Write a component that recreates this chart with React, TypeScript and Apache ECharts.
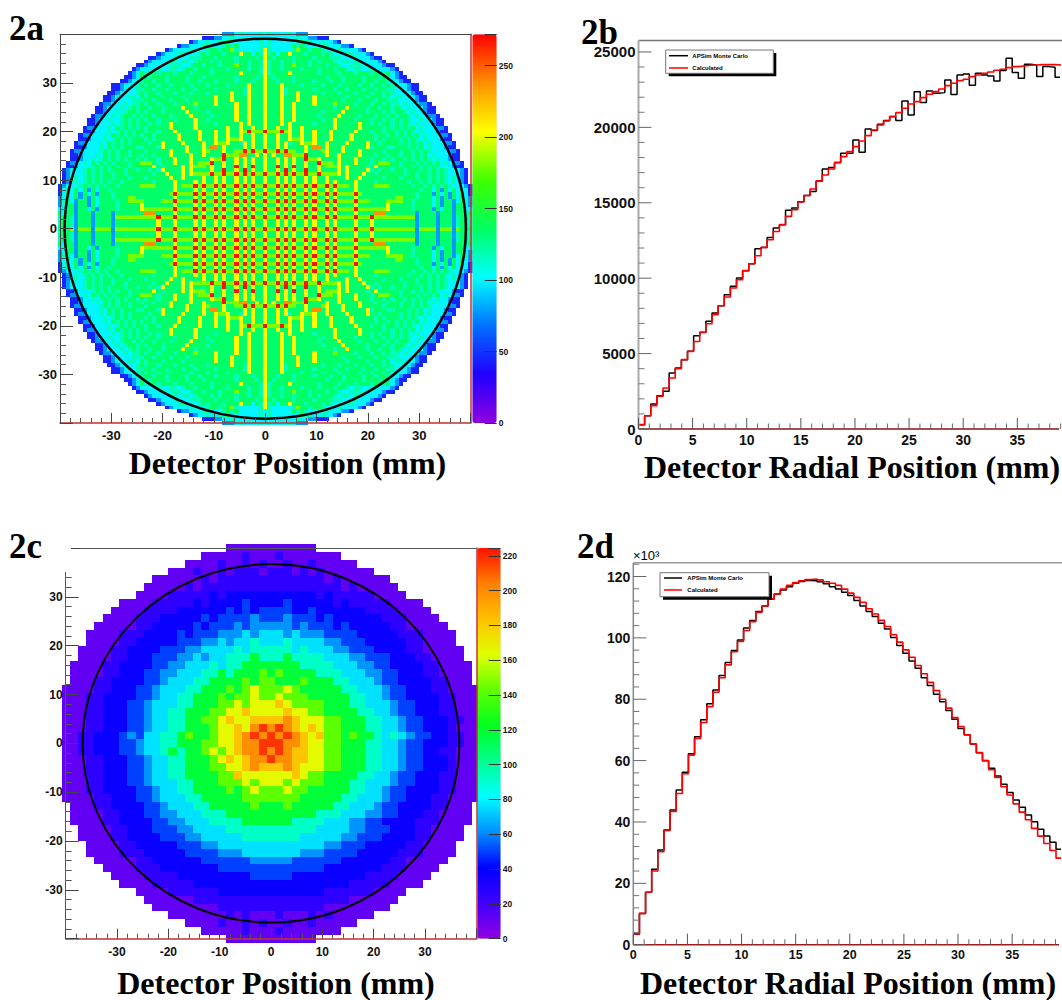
import React, { useEffect, useRef } from "react";
import * as echarts from "echarts";

// ---------- radial histograms, read bin by bin ----------
const binWidthMm = 0.566;
const monteCarlo2b = [290,880,1660,2210,2500,3710,4040,4600,5150,6190,6410,7140,7690,8170,8900,9460,10010,10500,10960,11960,12040,12700,13330,13550,14500,14650,15060,15480,15740,16448,17243,17332,17663,18282,18282,19166,18348,19895,19785,20205,20448,20713,20448,21752,20823,22370,21641,22415,22260,22304,23144,22172,23475,23542,22790,23586,23475,23409,23078,23763,24580,23630,23254,24183,24138,23365,24028,23984,23320,24000];
const calculated2b = [290,880,1550,2170,2720,3380,4000,4600,5150,5800,6400,6980,7580,8170,8750,9350,9900,10500,10960,11490,12040,12550,13100,13550,14100,14540,15050,15480,15917,16448,16846,17243,17663,18061,18393,18724,19100,19453,19829,20160,20426,20713,20978,21266,21553,21707,21973,22194,22370,22547,22768,22923,23100,23188,23365,23475,23586,23674,23785,23851,23962,24028,24072,24116,24138,24160,24160,24160,24138,24116];
const monteCarlo2d = [3.5,10.2,17.1,24.6,30.9,37.4,43.9,50.4,56.2,62.2,67.8,73.3,78.5,83,87.7,92,95.9,99.3,103.2,105.7,108.6,110.4,112.7,114.3,115.6,116.7,117.8,118.4,118.7,118.6,118.3,117.6,116.7,115.9,114.9,113.8,112.2,110.4,108.6,107,104.8,102.9,100.1,97.5,95,92.5,90.1,87,84.5,81.6,79.2,76.3,73.5,70.5,68.4,65.4,62.6,60,57.5,55,52.3,49.6,47.2,44.8,42.3,40.1,37.6,35.4,33.4,31.1];
const calculated2d = [3.5,10.2,17.1,24,30.3,37.2,43.4,49.3,55.7,61.8,67.2,72.4,77.6,82.3,87,91.2,95.5,98.8,102.4,105.3,108.3,110.4,112.7,114.3,115.9,117.1,118,118.6,119,119.2,118.9,118.3,117.8,117.1,115.9,114.6,113.2,111.6,109.5,107.8,105.7,103.7,101,98.6,96.1,93.7,91,88.3,85.5,82.8,80,77.1,74,71.1,68.4,65.4,62.6,59.9,57,54.5,51.5,48.8,45.9,43.2,40.7,37.9,35.4,33,30.7,28.2];

// ---------- tick positions of the two radial panels ----------
const radialMajorTicks = [0, 5, 10, 15, 20, 25, 30, 35];
const radialMinorTicks = [1,2,3,4,6,7,8,9,11,12,13,14,16,17,18,19,21,22,23,24,26,27,28,29,31,32,33,34,36,37,38,39];
const yMajorTicks2b = [0, 5000, 10000, 15000, 20000, 25000];
const yMinorTicks2b = [1000,2000,3000,4000,6000,7000,8000,9000,11000,12000,13000,14000,16000,17000,18000,19000,21000,22000,23000,24000];
const yMajorTicks2d = [0, 20, 40, 60, 80, 100, 120];
const yMinorTicks2d = [4,8,12,16,24,28,32,36,44,48,52,56,64,68,72,76,84,88,92,96,104,108,112,116,124];

// ---------- 2a: upper-left quadrant, read cell by cell; last char is the centre column ----------
const rows2a = [
"mmmcsccccsc",
"bbbmmccscccccccc",
"bmccsccssgcccccccsc",
"bmmcccsscccsgsgcccccsc",
"bmccccscccsggsgglscccccsy",
"bmcccsscccsgsgggsgggyggcgsy",
"bbmcccscccsssgggsggggsggggsgy",
"bmccccsscsscsgggsgsgggsggsggsy",
"bbmcccscsssccsggsgggsggglggsggsy",
"bmccccsccsscsggsgggsgggsggggsggsy",
"bmc" + "gsggsgggsg" + "ggsggggsgg" + "ggggyggggs" + "y",
"bbmc" + "ggsgggsggg" + "gsgggsgggg" + "gggsggggsg" + "y",
"bbmcc" + "sggsggsggg" + "gsggsgggsg" + "gggsgggsgg" + "y",
"bbmcccs" + "gsggsggsgg" + "ggsgggsggg" + "gsggggyggg" + "y",
"bbmcccs" + "sggsggsggg" + "sggsggggsg" + "gggggsyggg" + "y",
"bbmccccs" + "gsggsgggsg" + "ggsgggsggg" + "ggyggsyggg" + "y",
"bbmcccssc" + "gsgggsgggg" + "sgggggggyg" + "ggygggyggg" + "y",
"bbmccccss" + "sggsgggsgg" + "gsggggggyg" + "ggygggyggg" + "y",
"bmmcccscss" + "gsggsgggsg" + "ggglggggyg" + "gggyggyggg" + "y",
"bbmcccscsgs" + "ggsggsgggg" + "yggsgggggg" + "gggyggyggg" + "y",
"bbmccscsggs" + "gsgggsgggg" + "gyggggsggg" + "gggyggyggg" + "y",
"bmmccscsggsg" + "sggsgggsgg" + "ggyggggsgg" + "gggyggyggg" + "y",
"bbmccsccsgsgs" + "gsggsgggsg" + "gggyggsggg" + "gggyggyggg" + "y",
"bbmcccscsgsgs" + "ggsgsggygg" + "gggyggggsg" + "ggggygyggg" + "y",
"bmmcccscgsgsgs" + "gsgggggygg" + "gggygggggg" + "gyggyggygg" + "y",
"bbmcccscsgsgsg" + "gsggsgggyg" + "ggggygggyg" + "gyggylrlll" + "r",
"bmmcccscgsgsgsg" + "sggsgggggy" + "ggggygggyg" + "gyggyggygg" + "y",
"bbmcccscsgsgsgg" + "gsgsgggggy" + "ggggygggyg" + "gyllyggygg" + "y",
"bmmcccscgsgsgsgg" + "ggsggygggg" + "yggggyggyl" + "lyggsygygg" + "y",
"bbmcccscgsgsgggs" + "sgggsygggg" + "gygggygoog" + "yggggygygg" + "y",
"bmmccccsgsgsggsgg" + "gsgggggygg" + "gygggylggg" + "yggllrlrll" + "r",
"bbmcccscgsgsggsgg" + "sggsgggygg" + "ggyggygggg" + "rlllooggyg" + "y",
"bbmccscsgsgsgsggs" + "gsggsgggyg" + "ggyggggyll" + "rggygygygg" + "y",
"bmmcscgsgsgsgggsgg" + "lllgsgggyg" + "ggyglllrgg" + "yggygygygg" + "y",
"bbmcccsgsgsgsggsgg" + "gggygsgggg" + "ygylllgygg" + "yggrgygrgg" + "y",
"bmcccsgsgsgsgggsggs" + "ggsgsygggg" + "ygyggggygg" + "rggygrgygg" + "y",
"bmcccsgsgsggsggsggg" + "gggsggyggg" + "ygyllllrll" + "rllrlrlrll" + "r",
"bmcscsgsgsggsgggsgg" + "gsgggggygg" + "yggggyggyg" + "yggygygygg" + "y",
"bmcscsgsgsgsggsgggg" + "gggsggggyg" + "gggygyggyg" + "yggygygygg" + "y",
"bmcccsgsgsgsggsggggg" + "llllggggyg" + "lllrlrllrl" + "rllrlrlrll" + "r",
"bcscgcgmgcggsggggggg" + "ggggggggyg" + "gggygyggyg" + "yggygygygg" + "y",
"bcgcgmgcgmgggsgggggg" + "ggggggglrl" + "lllrlrllrl" + "rllrlrlrll" + "r",
"mcgcgmgmgcgggsgggllg" + "ggggggggyg" + "gggygyggyg" + "yggygygygg" + "y",
"msgcmggmgcggggsgglll" + "lgggglllrl" + "lllrlrllrl" + "rllrlrlrll" + "r",
"mcggmggmgcggggsggggg" + "ygggggggyg" + "gggygyggyg" + "yggygygygg" + "y",
"ccggmggcgmggggsggggg" + "ylllllllrl" + "lllrlrllrl" + "rllrlrlrll" + "r",
"gcggmgggmggggmgggggg" + "goooggggyg" + "gggygyggyg" + "yggygygygg" + "y",
"sggsmgggmggggmllllll" + "llllrlllrl" + "lllrlrllrl" + "rllrlrlrll" + "r",
"sggsmgggmggggmgggggg" + "ggggygggyg" + "gggygyggyg" + "yggygygygg" + "y",
"sggsmgggmggggmgggggg" + "ggggygggyg" + "gggygyggyg" + "yggygygygg" + "y",
"ggglmlllmllllmllllll" + "llllrlllrl" + "lllrlrllrl" + "rllrlrlrll" + "r",
];
const levels2a: Record<string, number> = { p: 25, b: 45, m: 78, c: 100, s: 118, g: 134, h: 150, l: 180, y: 206, o: 238, r: 268 };

// ---------- 2c: whole disc, read as coarse cells; each row is centred ----------
const rows2c = [
"00000000000",
"00000100010000000",
"000010010100100100000",
"0001001011101110101000000",
"00000010111111" + "1" + "11111101000000",
"000001011111111" + "1" + "111111110100000",
"0000111112122222" + "2" + "2222212111110000",
"000011111212222322" + "2" + "232222212111110000",
"0000111122222232323" + "3" + "3322322222211110000",
"00001112222232333343" + "3" + "34333232222221110000",
"000001122222323334344" + "4" + "443433323222221100000",
"0000111222232333444545" + "5" + "5454443333222221110000",
"0000112222233344545565" + "5" + "5655554433322222110000",
"00001122223334455556566" + "6" + "66565554433322221100000",
"00001122233344545566676" + "6" + "67666655544333222110000",
"000011222233445556566777" + "7" + "777666655544332222110000",
"000011222334455566767778" + "7" + "877776665554433222110000",
"000112222334555667777878" + "8" + "777877766555433222211000",
"0000112223345556677787898" + "8" + "8987777766555433222110000",
"0001122223345566777878898" + "8" + "9888777776655433222211000",
"0001122233455566777889899" + "9" + "a988887776655543322211000",
"0001122233455667778899a99" + "9" + "9a99887777665543322211000",
"00011222334556677889a99aa" + "a" + "aba9998877766554332221100",
"000112223345566777899a9bc" + "b" + "cba9a98877766554332221000",
"001122234355667877899abcb" + "c" + "bcba9a8878776565433221100",
"001122233455667778899abbc" + "c" + "cbba998877766554332221100",
"001122233455676778989abbc" + "b" + "cbaa998877766554332211000",
"00011222334556677789a9abb" + "c" + "bbaa998877766554332221000",
"0001122233455667778899aba" + "a" + "aba9998877766554332221000",
"000112223345566777788a999" + "9" + "99a9887777665543322211000",
"0001122233455566777888989" + "9" + "9898887776655543322211000",
"0001122223345566777787898" + "8" + "8988777776655433222211000",
"0000112223345556677777888" + "8" + "8887777766555433222110000",
"000112222334555667777787" + "7" + "787777766555433222211000",
"000011222334455566677777" + "7" + "777776665554433222110000",
"000011222233445556666777" + "7" + "776666555443322221110000",
"00001122233344555566666" + "6" + "66666555544333222110000",
"00001122223334455555666" + "6" + "66655555443332222110000",
"0000112222233344555555" + "5" + "5555554433322222110000",
"0000111222223333444555" + "5" + "5554443333222221110000",
"000001122222233333344" + "4" + "443333332222221100000",
"00001112222222333333" + "3" + "33333322222221110000",
"0000111122222222233" + "3" + "3322222222211110000",
"000011111222222222" + "2" + "222222222111110000",
"0000111111222222" + "2" + "2222221111110000",
"000000111111111" + "1" + "111111111000000",
"00000000111111" + "1" + "11111100000000",
"0000000101000100010100000",
"000010010100100100000",
"00000100010000000",
"00000000000",
];
const levels2c: Record<string, number> = { "0": 12, "1": 26, "2": 38, "3": 50, "4": 62, "5": 76, "6": 92, "7": 118, "8": 142, "9": 165, a: 182, b: 200, c: 218 };

const circleRadius2a = 39.1;
const circleRadius2c = 36.7;
const palette2a = ["#9000e0", "#2000ff", "#0070ff", "#00ffff", "#00ff60", "#40ff00", "#ffff00", "#ff9000", "#ff0000"];
const palette2c = ["#9000e0", "#4000ff", "#0000ff", "#0090ff", "#00ffff", "#00ff90", "#00ff20", "#60ff00", "#e0ff00", "#ffc000", "#ff8000", "#ff1000"];

const LABEL = "'Liberation Sans', Arial, sans-serif";
const SERIF = "'Liberation Serif', 'Times New Roman', serif";

function cells2a() {
  const out: number[][] = [];
  const size = 0.8;
  rows2a.forEach((row, r) => {
    const full = row.slice(-51).padStart(51, ".");
    for (let c = 0; c < 51; c++) {
      const v = levels2a[full[c]];
      if (v === undefined) continue;
      const x = (c - 50) * size;
      const y = (50 - r) * size;
      out.push([x, y, v]);
      if (c < 50) out.push([-x, y, v]);
      if (r < 50) {
        out.push([x, -y, v]);
        if (c < 50) out.push([-x, -y, v]);
      }
    }
  });
  return out;
}

function cells2c() {
  const out: number[][] = [];
  const size = 1.6;
  rows2c.forEach((row, r) => {
    const pad = Math.floor((51 - row.length) / 2);
    for (let i = 0; i < row.length; i++) {
      const v = levels2c[row[i]];
      if (v === undefined) continue;
      out.push([(pad + i - 25) * size, (25 - r) * size, v]);
    }
  });
  return out;
}

const cellSeries = (xi: number, yi: number, data: number[][], half: number, z: number) => ({
  type: "custom",
  xAxisIndex: xi,
  yAxisIndex: yi,
  data,
  z,
  clip: false,
  encode: { x: 0, y: 1 },
  progressive: 0,
  silent: true,
  renderItem: (_: any, api: any) => {
    const x = api.value(0);
    const y = api.value(1);
    const a = api.coord([x - half, y + half]);
    const b = api.coord([x + half, y - half]);
    const x0 = Math.round(a[0]);
    const y0 = Math.round(a[1]);
    return {
      type: "rect",
      shape: { x: x0, y: y0, width: Math.round(b[0]) - x0, height: Math.round(b[1]) - y0 },
      style: { fill: api.visual("color") },
    };
  },
});

const circleSeries = (xi: number, yi: number, radius: number, lw: number) => ({
  type: "custom",
  xAxisIndex: xi,
  yAxisIndex: yi,
  data: [[0, 0, radius]],
  z: 4,
  clip: false,
  encode: { x: 0, y: 1 },
  silent: true,
  renderItem: (_: any, api: any) => {
    const c = api.coord([0, 0]);
    const e = api.coord([radius, radius]);
    return {
      type: "ellipse",
      shape: { cx: c[0], cy: c[1], rx: e[0] - c[0], ry: c[1] - e[1] },
      style: { fill: "transparent", stroke: "#000", lineWidth: lw },
    };
  },
});

const stepSeries = (xi: number, yi: number, name: string, values: number[], color: string, width: number, z: number) => ({
  type: "line",
  name,
  xAxisIndex: xi,
  yAxisIndex: yi,
  step: "end",
  symbol: "none",
  z,
  clip: false,
  silent: true,
  lineStyle: { color, width },
  data: [...values.map((v, i) => [i * binWidthMm, v]), [values.length * binWidthMm, values[values.length - 1]]],
});

const hideAbove = (limit: number) => (v: number) => (Math.abs(v) > limit ? "" : String(v));

const mainX = (gridIndex: number, min: number, max: number, interval: number, limit: number, fontSize: number, margin: number, lineW: number, lineC: string, marks = true) => ({
  type: "value", gridIndex, min, max, interval, z: 5, position: "bottom",
  splitLine: { show: false },
  axisLine: { show: marks, onZero: false, lineStyle: { color: lineC, width: lineW } },
  axisTick: { show: marks, inside: true, length: 10, lineStyle: { color: "#444", width: 1 } },
  minorTick: { show: marks, splitNumber: 5, length: 5, lineStyle: { color: "#555", width: 1 } },
  axisLabel: { fontFamily: LABEL, fontWeight: "bold", fontSize, color: "#111", margin, formatter: hideAbove(limit), hideOverlap: false },
});
const mainY = (gridIndex: number, min: number, max: number, interval: number, limit: number, fontSize: number, lineW: number, lineC: string, marks = true) => ({
  type: "value", gridIndex, min, max, interval, z: 5, position: "left",
  splitLine: { show: false },
  axisLine: { show: marks, onZero: false, lineStyle: { color: lineC, width: lineW } },
  axisTick: { show: marks, inside: true, length: 13, lineStyle: { color: "#444", width: 1 } },
  minorTick: { show: marks, splitNumber: 5, length: 6, lineStyle: { color: "#555", width: 1 } },
  axisLabel: { fontFamily: LABEL, fontWeight: "bold", fontSize, color: "#111", margin: 3, formatter: hideAbove(limit), hideOverlap: false },
});
const edgeX = (gridIndex: number, color: string, width: number) => ({
  type: "value", gridIndex, position: "top", min: 0, max: 1, z: 5,
  splitLine: { show: false }, axisTick: { show: false }, axisLabel: { show: false },
  axisLine: { show: true, onZero: false, lineStyle: { color, width } },
});
const edgeY = (gridIndex: number, color: string, width: number) => ({
  type: "value", gridIndex, position: "right", min: 0, max: 1, z: 5,
  splitLine: { show: false }, axisTick: { show: false }, axisLabel: { show: false },
  axisLine: { show: true, onZero: false, lineStyle: { color, width } },
});
const barX = (gridIndex: number) => ({ type: "value", gridIndex, show: false, min: 0, max: 1 });
const barY = (gridIndex: number, max: number, interval: number, limit: number) => ({
  type: "value", gridIndex, position: "right", min: 0, max, interval, z: 6,
  splitLine: { show: false },
  axisLine: { show: false, onZero: false },
  axisTick: { show: true, inside: true, length: 12, lineStyle: { color: "#333", width: 1 } },
  axisLabel: { fontFamily: LABEL, fontWeight: "bold", fontSize: 8.5, color: "#111", margin: 2, formatter: hideAbove(limit), hideOverlap: false },
});

const txt = (text: string, x: number, y: number, fontSize: number, family: string, weight: string, align = "center") => ({
  type: "text", x, y, z: 100,
  style: { text, fontSize, fontFamily: family, fontWeight: weight, fill: "#000", textAlign: align, textVerticalAlign: "middle" },
});

const legendBox = (x0: number, y0: number, w: number, h: number, lineX0: number, lineX1: number, y1: number, y2: number, textX: number) => [
  { type: "rect", z: 100, shape: { x: x0 + 3, y: y0 + 3, width: w, height: h }, style: { fill: "#000" } },
  { type: "rect", z: 101, shape: { x: x0, y: y0, width: w, height: h }, style: { fill: "#fff", stroke: "#777", lineWidth: 1 } },
  { type: "line", z: 102, shape: { x1: lineX0, y1, x2: lineX1, y2: y1 }, style: { stroke: "#000", lineWidth: 1.5 } },
  { type: "line", z: 102, shape: { x1: lineX0, y1: y2, x2: lineX1, y2 }, style: { stroke: "#f00", lineWidth: 1.5 } },
  { ...txt("APSim Monte Carlo", textX, y1, 6, LABEL, "bold", "left"), z: 102 },
  { ...txt("Calculated", textX, y2, 6, LABEL, "bold", "left"), z: 102 },
];

// axis lines and ticks of a radial panel, placed through the panel's own scales
const frameLines = (chart: any, axisIndex: number, xMax: number, yMax: number, xMajor: number[], xMinor: number[], yMajor: number[], yMinor: number[], bottom: string, leftColor: string, leftWidth: number) => {
  const finder = { xAxisIndex: axisIndex, yAxisIndex: axisIndex };
  const at = (x: number, y: number) => chart.convertToPixel(finder, [x, y]);
  const seg = (x1: number, y1: number, x2: number, y2: number, stroke: string, lineWidth: number) => ({
    type: "line", z: 95, shape: { x1, y1, x2, y2 }, style: { stroke, lineWidth },
  });
  const o = at(0, 0);
  const out: any[] = [
    seg(o[0], o[1], at(xMax, 0)[0], o[1], bottom, 1.5),
    seg(o[0], o[1], o[0], at(0, yMax)[1], leftColor, leftWidth),
  ];
  xMajor.forEach((v) => { const p = at(v, 0); out.push(seg(p[0], p[1], p[0], p[1] - 11, "#555", 1)); });
  xMinor.forEach((v) => { const p = at(v, 0); out.push(seg(p[0], p[1], p[0], p[1] - 5.5, "#666", 1)); });
  yMajor.forEach((v) => { const p = at(0, v); out.push(seg(p[0], p[1], p[0] + 13, p[1], "#666", 1)); });
  yMinor.forEach((v) => { const p = at(0, v); out.push(seg(p[0], p[1], p[0] + 6, p[1], "#777", 1)); });
  return out;
};

export default function App() {
  const ref = useRef<HTMLDivElement>(null);
  useEffect(() => {
    document.body.style.margin = "0";
    const chart = echarts.init(ref.current!, undefined, { renderer: "svg" });
    const RED = "#c83030";
    chart.setOption({
      animation: false,
      backgroundColor: "#fff",
      grid: [
        { left: 60, top: 34.3, width: 410.5, height: 388.7 },
        { left: 638.5, top: 40.5, width: 423.5, height: 388.5 },
        { left: 65.7, top: 548, width: 410.6, height: 390.7 },
        { left: 633.3, top: 562.7, width: 428.7, height: 382 },
        { left: 472.3, top: 34.3, width: 24.4, height: 388.7 },
        { left: 477.3, top: 548, width: 23.4, height: 390.7 },
      ],
      xAxis: [
        mainX(0, -40, 40, 10, 39, 13, 6, 1.5, RED),
        mainX(1, 0, 38.85, 5, 35, 14, 4, 1.5, "#8a1010", false),
        mainX(2, -40, 40, 10, 39, 12, 7, 1.5, RED),
        mainX(3, 0, 39.33, 5, 35, 12.5, 4, 1.5, "#a01818", false),
        barX(4),
        barX(5),
        edgeX(0, "#444", 1),
        edgeX(2, "#555", 1),
      ],
      yAxis: [
        mainY(0, -40, 40, 10, 39, 13, 1, "#444"),
        mainY(1, 0, 25760, 5000, 25000, 15, 2, "#aaa", false),
        mainY(2, -40, 40, 10, 39, 12, 1, "#555"),
        mainY(3, 0, 124.5, 20, 120, 14, 1.5, "#888", false),
        barY(4, 272, 50, 250),
        barY(5, 224.5, 20, 220),
        edgeY(0, RED, 1.5),
        edgeY(2, RED, 1.5),
      ],
      visualMap: [
        {
          type: "continuous", seriesIndex: 0, dimension: 2, min: 0, max: 272, calculable: false, z: 4,
          left: 472.3, top: 34.3, itemWidth: 24.4, itemHeight: 388.7, text: null, showLabel: false, padding: 0,
          inRange: { color: palette2a },
        },
        {
          type: "continuous", seriesIndex: 2, dimension: 2, min: 0, max: 224.5, calculable: false, z: 4,
          left: 477.3, top: 548, itemWidth: 23.4, itemHeight: 390.7, text: null, showLabel: false, padding: 0,
          inRange: { color: palette2c },
        },
      ],
      series: [
        cellSeries(0, 0, cells2a(), 0.4, 2),
        circleSeries(0, 0, circleRadius2a, 2.5),
        cellSeries(2, 2, cells2c(), 0.8, 2),
        circleSeries(2, 2, circleRadius2c, 2),
        stepSeries(1, 1, "APSim Monte Carlo", monteCarlo2b, "#000", 1.5, 3),
        stepSeries(1, 1, "Calculated", calculated2b, "#f00", 1.6, 4),
        stepSeries(3, 3, "APSim Monte Carlo", monteCarlo2d, "#000", 1.5, 3),
        stepSeries(3, 3, "Calculated", calculated2d, "#f00", 1.6, 4),
      ],
    });
    chart.setOption({
      graphic: {
        elements: [
          { type: "line", z: 1, shape: { x1: 638.5, y1: 40.5, x2: 1062, y2: 40.5 }, style: { stroke: "#777", lineWidth: 1.5 } },
          { type: "line", z: 1, shape: { x1: 633.3, y1: 562.7, x2: 1062, y2: 562.7 }, style: { stroke: "#999", lineWidth: 1.5 } },
          txt("2a", 9, 28, 35, SERIF, "bold", "left"),
          txt("2b", 581, 32, 35, SERIF, "bold", "left"),
          txt("2c", 9, 546, 35, SERIF, "bold", "left"),
          txt("2d", 577, 546, 35, SERIF, "bold", "left"),
          txt("Detector Position (mm)", 287.5, 463, 32, SERIF, "bold"),
          txt("Detector Radial Position (mm)", 852, 467, 32, SERIF, "bold"),
          txt("Detector Position (mm)", 276, 983, 32, SERIF, "bold"),
          txt("Detector Radial Position (mm)", 848, 983, 32, SERIF, "bold"),
          txt("×10³", 633, 555, 13, LABEL, "normal", "left"),
          { type: "rect", z: 90, shape: { x: 60, y: 544, width: 11, height: 8 }, style: { fill: "#fff" } },
          { type: "rect", z: 90, shape: { x: 60, y: 550, width: 19, height: 22 }, style: { fill: "#fff" } },
          ...frameLines(chart, 1, 38.85, 25760, radialMajorTicks, radialMinorTicks, yMajorTicks2b, yMinorTicks2b, "#8a1010", "#aaa", 2),
          ...frameLines(chart, 3, 39.33, 124.5, radialMajorTicks, radialMinorTicks, yMajorTicks2d, yMinorTicks2d, "#a01818", "#888", 1.5),
          ...legendBox(665.7, 50, 107.6, 23.3, 669, 688, 55.7, 68, 692.3),
          ...legendBox(660, 572.7, 109, 24, 664, 682, 578, 590, 687.3),
        ],
      },
    });
    return () => chart.dispose();
  }, []);
  return <div ref={ref} style={{ position: "absolute", left: 0, top: 0, width: 1062, height: 1000 }} />;
}
